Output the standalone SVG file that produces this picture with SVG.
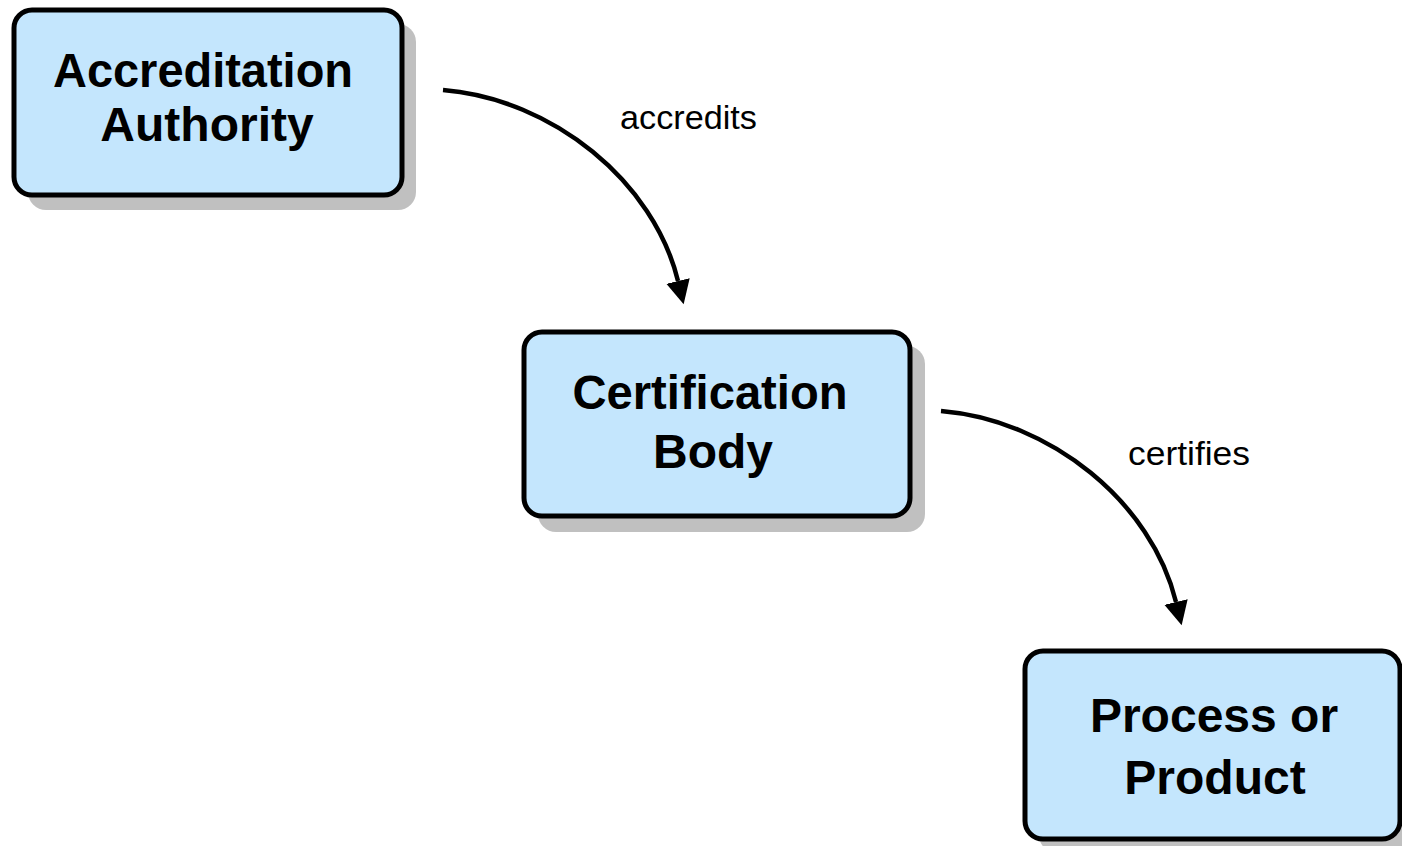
<svg xmlns="http://www.w3.org/2000/svg" width="1402" height="846" viewBox="0 0 1402 846">
<style>
.shadow{fill:#c0c0c0;stroke:none}
.box{fill:#c4e6fd;stroke:#000;stroke-width:5}
.t{font-family:"Liberation Sans",Arial,Helvetica,sans-serif;font-weight:bold;font-size:48px;fill:#000;text-anchor:middle}
.lbl{font-family:"Liberation Sans",Arial,Helvetica,sans-serif;font-size:33px;fill:#000}
.conn{fill:none;stroke:#000;stroke-width:4.5}
</style>
<defs>
<marker id="ah" markerUnits="userSpaceOnUse" markerWidth="26" markerHeight="26" viewBox="0 -13 26 26" refX="0" refY="0" orient="auto">
<path d="M0,-12 L24,0 L0,12 Z" fill="#000"/>
</marker>
</defs>
<rect width="1402" height="846" fill="#fff"/>
<g id="node-accreditation-authority">
<rect class="shadow" x="28" y="24" width="388" height="186" rx="18"/>
<rect class="box" x="14" y="10" width="388" height="185" rx="18"/>
<text class="t" x="203" y="87" textLength="300" lengthAdjust="spacingAndGlyphs">Accreditation</text>
<text class="t" x="207" y="141">Authority</text>
</g>
<g id="node-certification-body">
<rect class="shadow" x="538" y="346" width="387" height="186" rx="18"/>
<rect class="box" x="524" y="332" width="386" height="184" rx="18"/>
<text class="t" x="710" y="409" textLength="275" lengthAdjust="spacingAndGlyphs">Certification</text>
<text class="t" x="713" y="468">Body</text>
</g>
<g id="node-process-or-product">
<rect class="shadow" x="1039" y="665" width="376" height="188" rx="18"/>
<rect class="box" x="1025" y="651" width="375" height="188" rx="18"/>
<text class="t" x="1214" y="732">Process or</text>
<text class="t" x="1215" y="794">Product</text>
</g>
<g id="connectors">
<path class="conn" d="M443,90 C553,99 654,182 678,281" marker-end="url(#ah)"/>
<path class="conn" d="M941,411 C1051,420 1152,503 1176,602" marker-end="url(#ah)"/>
<text class="lbl" x="620" y="129" textLength="137" lengthAdjust="spacingAndGlyphs">accredits</text>
<text class="lbl" x="1128" y="465" textLength="122" lengthAdjust="spacingAndGlyphs">certifies</text>
</g>
</svg>
